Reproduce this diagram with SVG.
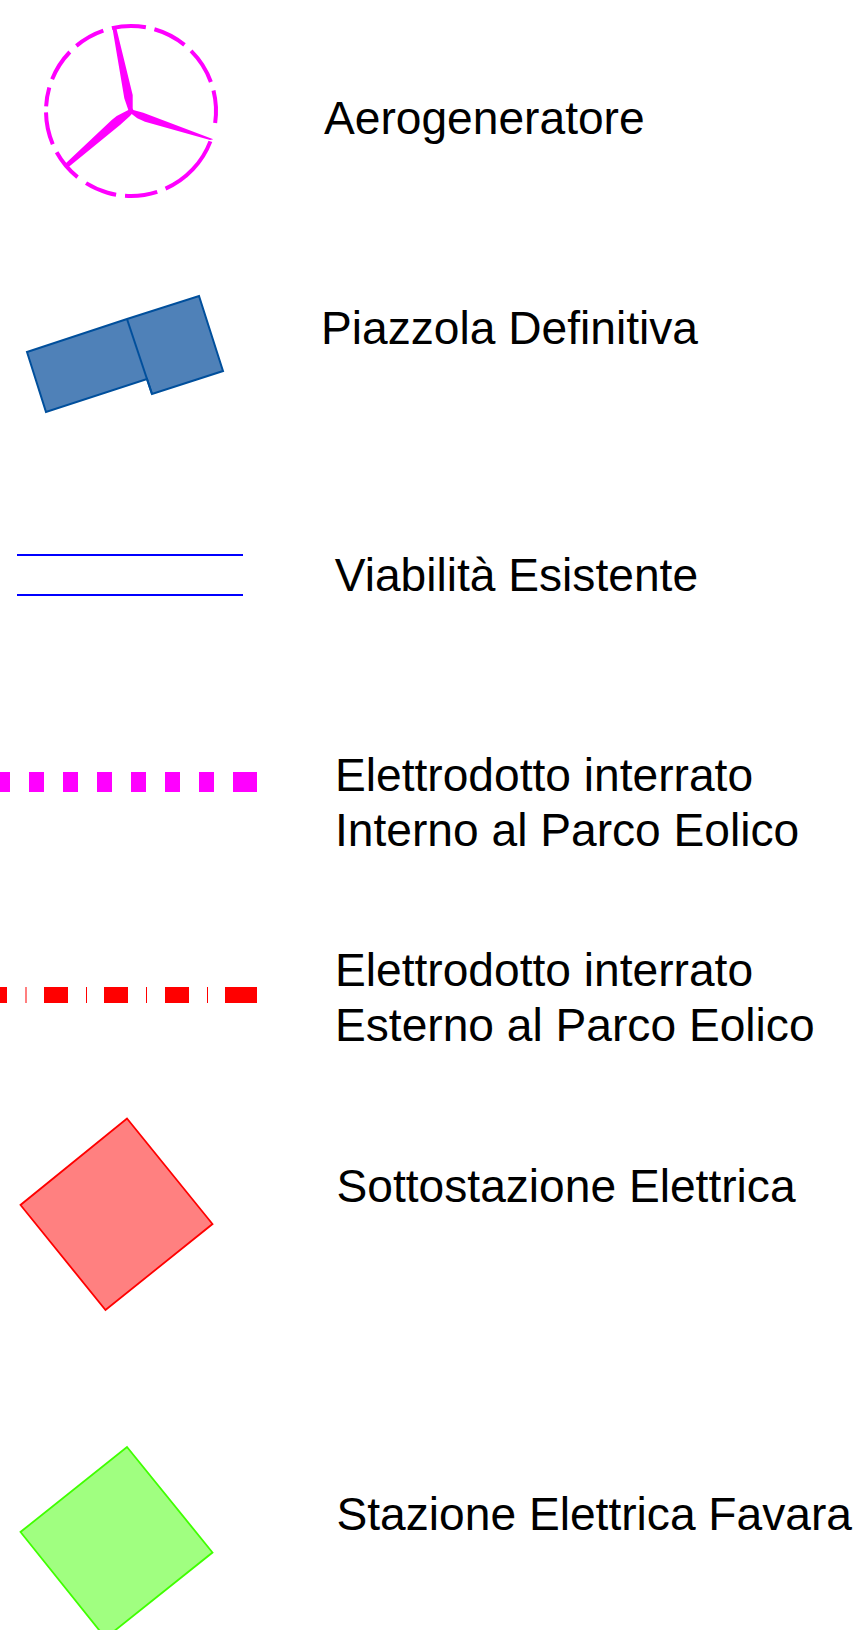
<svg xmlns="http://www.w3.org/2000/svg" width="864" height="1630" viewBox="0 0 864 1630">
<style>
text{font-family:"Liberation Sans",Arial,sans-serif;font-size:46.15px;fill:#000}
.mag{fill:#f0f}.red{fill:#f00}
</style>
<rect width="864" height="1630" fill="#fff"/>
<g id="aerogeneratore">
<circle cx="131" cy="111" r="85" fill="none" stroke="#f0f" stroke-width="4" pathLength="360" transform="rotate(-74 131 111)" stroke-dasharray="23 6 25 6 22 13 45 6 22 6 22 7 22 6 22 4 13 6 22 6 21 6 23 6"/>
<path class="mag" d="M112.300 27.300L116 26.700L132.700 95L132.700 108.300L133.300 110L143.300 112.700L213.300 139.300L210 140L145 121.700L137.300 118.300L131.700 114L130 116L120 125L68.300 167.300L65 164L111.700 120L116.700 116L128.300 110L124.300 98.300Z"/>
<text x="324" y="133.500">Aerogeneratore</text>
</g>
<g id="piazzola">
<path d="M27 352L127 319L199 296L223 371L152 394L147 379L46 412Z" fill="#4f81b8" stroke="#004f9c" stroke-width="2" stroke-linejoin="miter"/>
<path d="M127 319L152 394" fill="none" stroke="#004f9c" stroke-width="2"/>
<text x="321" y="343.500">Piazzola Definitiva</text>
</g>
<g id="viabilita">
<path d="M17 555H243M17 595H243" stroke="#00f" stroke-width="2" fill="none"/>
<text x="334.700" y="591">Viabilità Esistente</text>
</g>
<g id="interno">
<path class="mag" d="M0 772h10v20H0zM29 772h15v20H29zM63 772h15v20H63zM97 772h15v20H97zM131 772h15v20h-15zM165 772h15v20h-15zM199 772h15v20h-15zM233 772h24v20h-24z"/>
<text x="335" y="791">Elettrodotto interrato</text>
<text x="335" y="846">Interno al Parco Eolico</text>
</g>
<g id="esterno">
<path class="red" d="M0 987h7v16H0zM25.500 987h1v16h-1zM44 987h24v16H44zM86 987h1v16h-1zM104 987h24v16h-24zM146 987h1v16h-1zM165 987h24v16h-24zM207 987h1v16h-1zM225 987h32v16h-32z"/>
<text x="335" y="986">Elettrodotto interrato</text>
<text x="335" y="1041">Esterno al Parco Eolico</text>
</g>
<g id="sottostazione">
<path d="M127 1118.500L212.500 1224L105.500 1310L20.500 1205Z" fill="#ff8080" stroke="#f00" stroke-width="1.800"/>
<text x="336.500" y="1201.500">Sottostazione Elettrica</text>
</g>
<g id="stazione">
<path d="M127 1447L212.500 1552.500L105.500 1638L20.500 1532Z" fill="#a0ff80" stroke="#40ff00" stroke-width="1.800"/>
<text x="336.500" y="1530">Stazione Elettrica Favara</text>
</g>
</svg>
